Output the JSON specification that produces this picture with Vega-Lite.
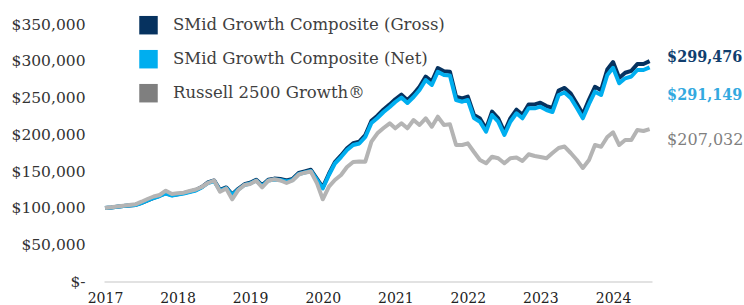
{
  "$schema": "https://vega.github.io/schema/vega-lite/v6.json",
  "width": 548,
  "height": 257.5,
  "autosize": {"type": "none"},
  "padding": {"left": 104, "top": 24, "right": 92, "bottom": 23.5},
  "background": "white",
  "config": {
    "view": {"stroke": null},
    "font": "DejaVu Serif",
    "axisY": {"labelOverlap": false, "labelBound": false, "labelFlush": false, "grid": false, "ticks": false, "domain": false, "labelFont": "DejaVu Serif", "labelFontSize": 15.5, "labelColor": "#333333", "labelPadding": 19, "title": null}
  },
  "data": {"values": [
    {"date": "2017-03", "gross": 100000, "net": 100000, "russell": 100000},
    {"date": "2017-04", "gross": 100630, "net": 100600, "russell": 100990},
    {"date": "2017-05", "gross": 101600, "net": 101530, "russell": 101940},
    {"date": "2017-06", "gross": 102720, "net": 102620, "russell": 102890},
    {"date": "2017-07", "gross": 103430, "net": 103300, "russell": 103980},
    {"date": "2017-08", "gross": 104140, "net": 103980, "russell": 104930},
    {"date": "2017-09", "gross": 106900, "net": 106700, "russell": 108460},
    {"date": "2017-10", "gross": 110340, "net": 110100, "russell": 112130},
    {"date": "2017-11", "gross": 113780, "net": 113490, "russell": 115530},
    {"date": "2017-12", "gross": 116540, "net": 116210, "russell": 117570},
    {"date": "2018-01", "gross": 119990, "net": 119610, "russell": 123420},
    {"date": "2018-02", "gross": 117300, "net": 116890, "russell": 118930},
    {"date": "2018-03", "gross": 118700, "net": 118250, "russell": 119880},
    {"date": "2018-04", "gross": 120100, "net": 119610, "russell": 120700},
    {"date": "2018-05", "gross": 122190, "net": 121650, "russell": 123010},
    {"date": "2018-06", "gross": 124280, "net": 123690, "russell": 125050},
    {"date": "2018-07", "gross": 128420, "net": 127770, "russell": 128440},
    {"date": "2018-08", "gross": 134600, "net": 133880, "russell": 133880},
    {"date": "2018-09", "gross": 137380, "net": 136600, "russell": 137280},
    {"date": "2018-10", "gross": 124430, "net": 123690, "russell": 122060},
    {"date": "2018-11", "gross": 127890, "net": 127090, "russell": 126410},
    {"date": "2018-12", "gross": 118360, "net": 117570, "russell": 111730},
    {"date": "2019-01", "gross": 125920, "net": 125050, "russell": 124370},
    {"date": "2019-02", "gross": 132120, "net": 131160, "russell": 131160},
    {"date": "2019-03", "gross": 134220, "net": 133200, "russell": 132520},
    {"date": "2019-04", "gross": 138370, "net": 137280, "russell": 137010},
    {"date": "2019-05", "gross": 130880, "net": 129800, "russell": 128040},
    {"date": "2019-06", "gross": 138460, "net": 137280, "russell": 137010},
    {"date": "2019-07", "gross": 139870, "net": 138640, "russell": 138910},
    {"date": "2019-08", "gross": 139230, "net": 137960, "russell": 137280},
    {"date": "2019-09", "gross": 137220, "net": 135920, "russell": 133880},
    {"date": "2019-10", "gross": 139320, "net": 137960, "russell": 137280},
    {"date": "2019-11", "gross": 147600, "net": 146110, "russell": 145430},
    {"date": "2019-12", "gross": 149710, "net": 148150, "russell": 147880},
    {"date": "2020-01", "gross": 151820, "net": 150190, "russell": 149510},
    {"date": "2020-02", "gross": 139500, "net": 137960, "russell": 133470},
    {"date": "2020-03", "gross": 127850, "net": 126410, "russell": 111730},
    {"date": "2020-04", "gross": 146460, "net": 144760, "russell": 128850},
    {"date": "2020-05", "gross": 162320, "net": 160390, "russell": 137960},
    {"date": "2020-06", "gross": 171320, "net": 169220, "russell": 144760},
    {"date": "2020-07", "gross": 181010, "net": 178740, "russell": 155630},
    {"date": "2020-08", "gross": 187950, "net": 185530, "russell": 162420},
    {"date": "2020-09", "gross": 190080, "net": 187570, "russell": 163100},
    {"date": "2020-10", "gross": 199090, "net": 196400, "russell": 162830},
    {"date": "2020-11", "gross": 218450, "net": 215430, "russell": 190020},
    {"date": "2020-12", "gross": 225410, "net": 222230, "russell": 201430},
    {"date": "2021-01", "gross": 233760, "net": 230380, "russell": 208640},
    {"date": "2021-02", "gross": 240730, "net": 237180, "russell": 215030},
    {"date": "2021-03", "gross": 247700, "net": 243980, "russell": 208230},
    {"date": "2021-04", "gross": 253990, "net": 250090, "russell": 215030},
    {"date": "2021-05", "gross": 246480, "net": 242620, "russell": 208230},
    {"date": "2021-06", "gross": 254840, "net": 250770, "russell": 219510},
    {"date": "2021-07", "gross": 264590, "net": 260290, "russell": 212720},
    {"date": "2021-08", "gross": 278490, "net": 273880, "russell": 221820},
    {"date": "2021-09", "gross": 271670, "net": 267080, "russell": 210400},
    {"date": "2021-10", "gross": 290150, "net": 285160, "russell": 224000},
    {"date": "2021-11", "gross": 285670, "net": 280680, "russell": 212720},
    {"date": "2021-12", "gross": 285070, "net": 280000, "russell": 213670},
    {"date": "2022-01", "gross": 251240, "net": 246700, "russell": 185530},
    {"date": "2022-02", "gross": 248970, "net": 244380, "russell": 185530},
    {"date": "2022-03", "gross": 251400, "net": 246700, "russell": 187840},
    {"date": "2022-04", "gross": 226540, "net": 222230, "russell": 176020},
    {"date": "2022-05", "gross": 221480, "net": 217200, "russell": 165140},
    {"date": "2022-06", "gross": 207690, "net": 203610, "russell": 160660},
    {"date": "2022-07", "gross": 230910, "net": 226310, "russell": 169630},
    {"date": "2022-08", "gross": 221690, "net": 217200, "russell": 167450},
    {"date": "2022-09", "gross": 203300, "net": 199120, "russell": 160660},
    {"date": "2022-10", "gross": 221830, "net": 217200, "russell": 167450},
    {"date": "2022-11", "gross": 233560, "net": 228620, "russell": 168540},
    {"date": "2022-12", "gross": 226690, "net": 221820, "russell": 163780},
    {"date": "2023-01", "gross": 240650, "net": 235410, "russell": 172890},
    {"date": "2023-02", "gross": 240730, "net": 235410, "russell": 170580},
    {"date": "2023-03", "gross": 243030, "net": 237590, "russell": 169220},
    {"date": "2023-04", "gross": 238510, "net": 233100, "russell": 167450},
    {"date": "2023-05", "gross": 235810, "net": 230380, "russell": 174660},
    {"date": "2023-06", "gross": 259540, "net": 253490, "russell": 181450},
    {"date": "2023-07", "gross": 263100, "net": 256890, "russell": 183490},
    {"date": "2023-08", "gross": 255520, "net": 249410, "russell": 174660},
    {"date": "2023-09", "gross": 241670, "net": 235820, "russell": 165140},
    {"date": "2023-10", "gross": 227390, "net": 221820, "russell": 154270},
    {"date": "2023-11", "gross": 247400, "net": 241260, "russell": 165140},
    {"date": "2023-12", "gross": 264620, "net": 257980, "russell": 185530},
    {"date": "2024-01", "gross": 260100, "net": 253490, "russell": 183220},
    {"date": "2024-02", "gross": 288090, "net": 280680, "russell": 196400},
    {"date": "2024-03", "gross": 298260, "net": 290500, "russell": 202790},
    {"date": "2024-04", "gross": 276680, "net": 269390, "russell": 185530},
    {"date": "2024-05", "gross": 283740, "net": 276190, "russell": 192330},
    {"date": "2024-06", "gross": 286350, "net": 278640, "russell": 192330},
    {"date": "2024-07", "gross": 295510, "net": 287470, "russell": 205920},
    {"date": "2024-08", "gross": 295610, "net": 287470, "russell": 204560},
    {"date": "2024-09", "gross": 299476, "net": 291149, "russell": 207032}
  ]},
  "encoding": {
    "x": {
      "field": "date", "type": "temporal",
      "scale": {"type": "utc", "domain": [{"year": 2017, "month": 2, "date": 24, "utc": true}, {"year": 2024, "month": 9, "date": 13, "utc": true}]},
      "axis": {
        "title": null,
        "values": [
          {"year": 2017, "month": 3, "date": 1, "utc": true},
          {"year": 2018, "month": 3, "date": 1, "utc": true},
          {"year": 2019, "month": 3, "date": 1, "utc": true},
          {"year": 2020, "month": 3, "date": 1, "utc": true},
          {"year": 2021, "month": 3, "date": 1, "utc": true},
          {"year": 2022, "month": 3, "date": 1, "utc": true},
          {"year": 2023, "month": 3, "date": 1, "utc": true},
          {"year": 2024, "month": 3, "date": 1, "utc": true}
        ],
        "format": "%Y",
        "grid": false,
        "ticks": false,
        "domainColor": "#d9d9d9",
        "domainWidth": 1.5,
        "labelFont": "DejaVu Serif",
        "labelFontSize": 14,
        "labelColor": "#222222",
        "labelPadding": 10,
        "labelFlush": false,
        "labelOverlap": false,
        "labelBound": false
      }
    },
    "y": {
      "field": "gross", "type": "quantitative",
      "scale": {"domain": [0, 350000], "nice": false},
      "axis": {
        "title": null,
        "values": [0, 50000, 100000, 150000, 200000, 250000, 300000, 350000],
        "labelExpr": "datum.value === 0 ? '$-\u00a0\u00a0' : '$' + format(datum.value, ',')",
        "labelOverlap": false
      }
    }
  },
  "layer": [
    {
      "mark": {"type": "line", "strokeWidth": 4, "strokeJoin": "round"},
      "encoding": {
        "color": {
          "datum": "SMid Growth Composite (Gross)", "type": "nominal",
          "scale": {
            "domain": ["SMid Growth Composite (Gross)", "SMid Growth Composite (Net)", "Russell 2500 Growth®"],
            "range": ["#06325f", "#00aeef", "#b4b4b4"]
          },
          "legend": {
            "orient": "none",
            "legendX": 35,
            "legendY": -8.3,
            "title": null,
            "padding": 0,
            "symbolType": "square",
            "symbolSize": 342,
            "symbolStrokeWidth": 0,
            "labelFont": "DejaVu Serif",
            "labelFontSize": 16.5,
            "labelColor": "#404040",
            "labelOffset": 15,
            "rowPadding": 15,
            "labelLimit": 400,
            "encode": {
              "symbols": {
                "update": {
                  "fill": [
                    {"test": "datum.value === 'Russell 2500 Growth®'", "value": "#7f7f7f"},
                    {"scale": "color", "field": "value"}
                  ],
                  "opacity": {"value": 1},
                  "fillOpacity": {"value": 1},
                  "strokeWidth": {"value": 0}
                }
              }
            }
          }
        }
      }
    },
    {
      "mark": {"type": "line", "strokeWidth": 4, "strokeJoin": "round"},
      "encoding": {
        "y": {"field": "net", "type": "quantitative"},
        "color": {"datum": "SMid Growth Composite (Net)", "type": "nominal"}
      }
    },
    {
      "mark": {"type": "line", "strokeWidth": 4, "strokeJoin": "round"},
      "encoding": {
        "y": {"field": "russell", "type": "quantitative"},
        "color": {"datum": "Russell 2500 Growth®", "type": "nominal"}
      }
    },
    {
      "data": {"values": [{"date": "2024-09", "value": 299476}]},
      "mark": {"type": "text", "align": "left", "baseline": "middle", "dx": 17.5, "dy": -4, "fontSize": 16, "fontWeight": "bold", "font": "'DejaVu Serif Condensed', 'DejaVu Serif'", "color": "#103e6e"},
      "encoding": {
        "y": {"field": "value", "type": "quantitative"},
        "text": {"field": "value", "type": "quantitative", "format": "$,"}
      }
    },
    {
      "data": {"values": [{"date": "2024-09", "value": 291149}]},
      "mark": {"type": "text", "align": "left", "baseline": "middle", "dx": 17.5, "dy": 27.7, "fontSize": 16, "fontWeight": "bold", "font": "'DejaVu Serif Condensed', 'DejaVu Serif'", "color": "#33a9df"},
      "encoding": {
        "y": {"field": "value", "type": "quantitative"},
        "text": {"field": "value", "type": "quantitative", "format": "$,"}
      }
    },
    {
      "data": {"values": [{"date": "2024-09", "value": 207032}]},
      "mark": {"type": "text", "align": "left", "baseline": "middle", "dx": 17.5, "dy": 10.8, "fontSize": 16, "font": "DejaVu Serif", "color": "#7f7f7f"},
      "encoding": {
        "y": {"field": "value", "type": "quantitative"},
        "text": {"field": "value", "type": "quantitative", "format": "$,"}
      }
    }
  ]
}
